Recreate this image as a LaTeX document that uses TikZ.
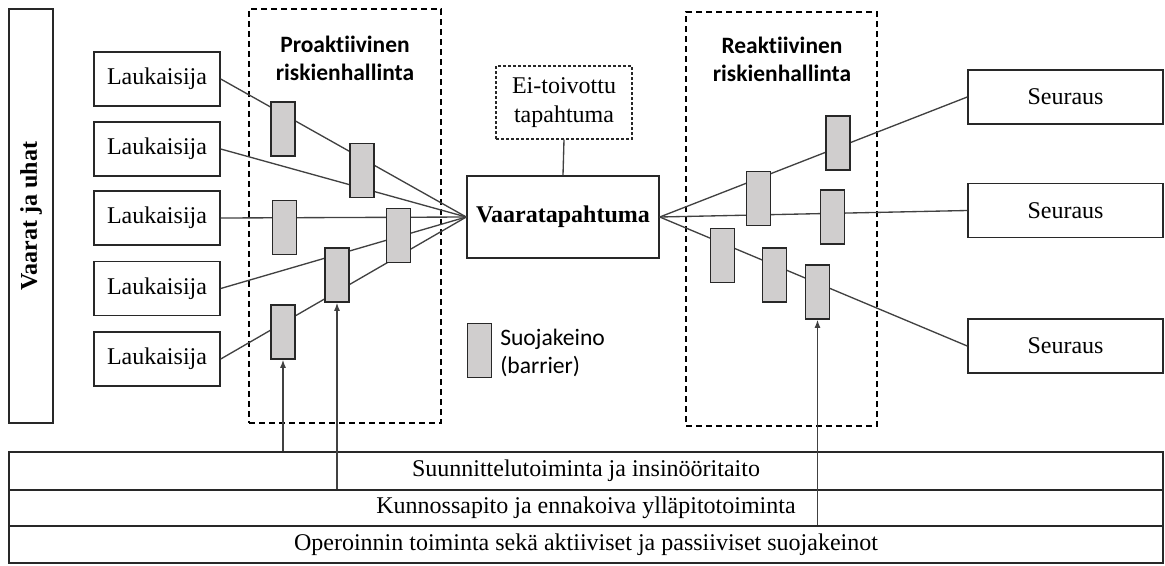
\documentclass[tikz,border=0pt]{standalone}
\usepackage{fontspec}
\setmainfont{Liberation Serif}
\newfontfamily\calibrifont[Ligatures=NoCommon]{Carlito}
\usetikzlibrary{arrows.meta}

\definecolor{edgegray}{RGB}{40,40,40}
\definecolor{linkgray}{RGB}{65,65,65}
\definecolor{barfill}{RGB}{208,206,206}

\tikzset{
  box/.style={draw=edgegray, line width=1.1pt, fill=white, inner sep=0pt,
    font=\fontsize{18}{21.6}\selectfont},
  laukaisija/.style={box, minimum width=94.5pt, minimum height=40.5pt},
  seuraus/.style={box, minimum width=146.25pt, minimum height=40.5pt},
  band/.style={box, minimum width=865.5pt},
  barrier/.style={draw=edgegray, fill=barfill, line width=1.2pt,
    minimum width=18pt, minimum height=40.5pt, inner sep=0pt},
  zone/.style={draw=black, line width=0.8pt, dash pattern=on 4.5pt off 3pt,
    inner sep=0pt},
  zonetitle/.style={align=center, font=\calibrifont\bfseries\fontsize{17.6}{21}\selectfont},
  link/.style={draw=linkgray, line width=1pt},
  lift/.style={link, -{Latex[length=6pt,width=4.5pt]}}
}

\begin{document}
\begin{tikzpicture}[x=0.75pt, y=-0.75pt]
\useasboundingbox (0,0) rectangle (1165,565);

% hazard column
\node[box, rotate=90, minimum width=310.5pt, minimum height=33pt,
  font=\bfseries\fontsize{18}{21.6}\selectfont] (vaarat) at (31,216) {Vaarat ja uhat};

% management zones
\node[zone, minimum width=144pt, minimum height=310.5pt] (pro) at (345,216) {};
\node[zonetitle] (protitle) at (345,58) {Proaktiivinen\\riskienhallinta};
\node[zone, minimum width=143.25pt, minimum height=310.5pt] (rea) at (781.5,219) {};
\node[zonetitle] (reatitle) at (782,59) {Reaktiivinen\\riskienhallinta};

% triggers
\node[laukaisija] (l1) at (157,79) {Laukaisija};
\node[laukaisija] (l2) at (157,149) {Laukaisija};
\node[laukaisija] (l3) at (157,218) {Laukaisija};
\node[laukaisija] (l4) at (157,288.5) {Laukaisija};
\node[laukaisija] (l5) at (157,359) {Laukaisija};

% top event
\node[box, minimum width=144pt, minimum height=61.5pt,
  font=\bfseries\fontsize{18}{21.6}\selectfont] (top) at (563,217) {Vaaratapahtuma};
\node[box, dash pattern=on 2.25pt off 1.5pt, line width=0.8pt,
  minimum width=102pt, minimum height=54.75pt, align=center] (ei) at (564,102.5)
  {Ei-toivottu\\tapahtuma};

% consequences
\node[seuraus] (s1) at (1065.5,97) {Seuraus};
\node[seuraus] (s2) at (1065.5,210.5) {Seuraus};
\node[seuraus] (s3) at (1065.5,346) {Seuraus};

% bottom bands
\node[band, minimum height=28.5pt] (b1) at (586,471) {Suunnittelutoiminta ja insinööritaito};
\node[band, minimum height=27pt] (b2) at (586,508) {Kunnossapito ja ennakoiva ylläpitotoiminta};
\node[band, minimum height=27.75pt] (b3) at (586,544.5) {Operoinnin toiminta sekä aktiiviset ja passiiviset suojakeinot};

% scenario lines
\foreach \l in {l1,l2,l3,l4,l5}
  \draw[link] (\l.east) -- (top.west);
\foreach \s in {s1,s2,s3}
  \draw[link] (top.east) -- (\s.west);
\draw[link] (ei.south) -- (top.north);

% barriers, proactive side
\node[barrier] (p1) at (283,129) {};
\node[barrier] (p2) at (362,170.5) {};
\node[barrier] (p3) at (284.5,227.5) {};
\node[barrier] (p4) at (398.5,235.5) {};
\node[barrier] (p5) at (337,275) {};
\node[barrier] (p6) at (283,332) {};

% barriers, reactive side
\node[barrier] (r1) at (838,143) {};
\node[barrier] (r2) at (758.5,198.5) {};
\node[barrier] (r3) at (832.5,217) {};
\node[barrier] (r4) at (722.5,255.5) {};
\node[barrier] (r5) at (774.5,275) {};
\node[barrier] (r6) at (817.5,292) {};

% legend
\node[barrier] (legbar) at (479.5,350.5) {};
\node[anchor=west, align=left, inner sep=0pt,
  font=\calibrifont\fontsize{17.7}{21}\selectfont] (legtext) at (500,353)
  {Suojakeino\\(barrier)};

% support from the bands
\draw[lift] (p6.south |- b1.north) -- (p6.south);
\draw[lift] (p5.south |- b2.north) -- (p5.south);
\draw[lift] (r6.south |- b3.north) -- (r6.south);
\end{tikzpicture}
\end{document}
